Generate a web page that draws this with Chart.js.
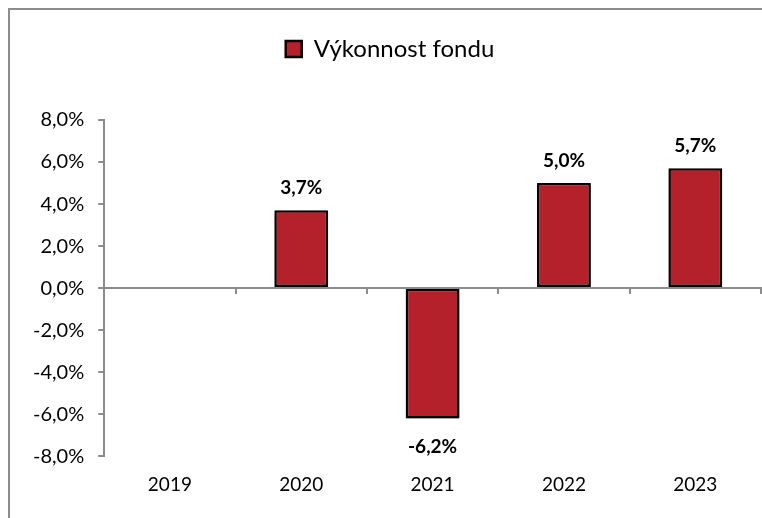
<!DOCTYPE html>
<html>
<head>
<meta charset="utf-8">
<script src="https://cdn.jsdelivr.net/npm/chart.js@4"></script>
<style>
  html, body { margin: 0; padding: 0; background: #ffffff; }
  #wrap { position: relative; width: 762px; height: 518px; overflow: hidden; }
  #frame { position: absolute; left: 8px; top: 8px; width: 800px; height: 600px;
           border-left: 2px solid #8c8c8c; border-top: 2px solid #8c8c8c; box-sizing: border-box; }
  canvas { position: absolute; left: 0; top: 0; }
</style>
</head>
<body>
<div id="wrap">
  <div id="frame"></div>
  <canvas id="c" width="762" height="518"></canvas>
</div>
<script>
const categories = ['2019', '2020', '2021', '2022', '2023'];
const seriesName = 'Výkonnost fondu';
const performance = [null, 3.7, -6.2, 5.0, 5.7];
const yTicks = [-8, -6, -4, -2, 0, 2, 4, 6, 8];

const FONT = 'Lato, "Open Sans", sans-serif';
const fmt = v => v.toFixed(1).replace('.', ',') + '%';

const legendHeightPlugin = {
  id: 'legendHeight',
  beforeInit(chart) {
    const legend = chart.legend;
    if (!legend) return;
    const origFit = legend.fit;
    legend.fit = function () {
      origFit.call(this);
      this.height = 93;
    };
  }
};

const labelPlugin = {
  id: 'barLabels',
  beforeDatasetsDraw(chart) {
    const ctx = chart.ctx;
    ctx.save();
    ctx.shadowColor = 'rgba(0,0,0,0.28)';
    ctx.shadowBlur = 4;
    ctx.shadowOffsetX = 1;
    ctx.shadowOffsetY = 3;
  },
  afterDatasetsDraw(chart) {
    const ctx = chart.ctx;
    ctx.restore();
    const meta = chart.getDatasetMeta(0);
    const data = chart.data.datasets[0].data;
    ctx.save();
    ctx.font = 'bold 19px ' + FONT;
    ctx.fillStyle = '#000';
    ctx.textAlign = 'center';
    ctx.textBaseline = 'middle';
    meta.data.forEach((el, i) => {
      const v = data[i];
      if (v === null || v === undefined) return;
      const y = v >= 0 ? el.y - 22 : el.y + 28;
      ctx.fillText(fmt(v), el.x, y);
    });
    ctx.restore();
  }
};

new Chart(document.getElementById('c'), {
  type: 'bar',
  data: {
    labels: categories,
    datasets: [{
      label: seriesName,
      data: performance,
      backgroundColor: '#B5212A',
      borderColor: '#000000',
      borderWidth: 2.5,
      borderSkipped: false,
      categoryPercentage: 1.0,
      barPercentage: 0.41
    }]
  },
  options: {
    responsive: false,
    animation: false,
    devicePixelRatio: 1,
    layout: { padding: { left: 19, right: 1, top: 27, bottom: 5 } },
    plugins: {
      tooltip: { enabled: false },
      legend: {
        display: true,
        position: 'top',
        labels: {
          font: { family: FONT, size: 24 },
          color: '#000',
          boxWidth: 16,
          boxHeight: 16,
          padding: 10
        }
      }
    },
    scales: {
      y: {
        min: -8, max: 8,
        afterBuildTicks: (s) => { s.ticks = yTicks.map(v => ({ value: v })); },
        ticks: {
          font: { family: FONT, size: 20 },
          color: '#000',
          padding: 14,
          callback: (v) => fmt(v)
        },
        grid: { drawOnChartArea: false, drawTicks: true, tickLength: 6, color: '#8c8c8c', lineWidth: 2 },
        border: { display: true, color: '#8c8c8c', width: 2 }
      },
      x: {
        position: 'bottom',
        ticks: { font: { family: FONT, size: 19 }, color: '#000', padding: 17 },
        grid: { display: false, drawTicks: false },
        border: { display: false }
      },
      x2: {
        type: 'category',
        axis: 'x',
        labels: categories,
        position: { y: 0 },
        offset: true,
        ticks: { display: false },
        grid: { offset: true, drawOnChartArea: false, drawTicks: true, tickLength: 5, color: '#8c8c8c', lineWidth: 2 },
        border: { display: true, color: '#8c8c8c', width: 2 }
      }
    }
  },
  plugins: [legendHeightPlugin, labelPlugin]
});
</script>
</body>
</html>
